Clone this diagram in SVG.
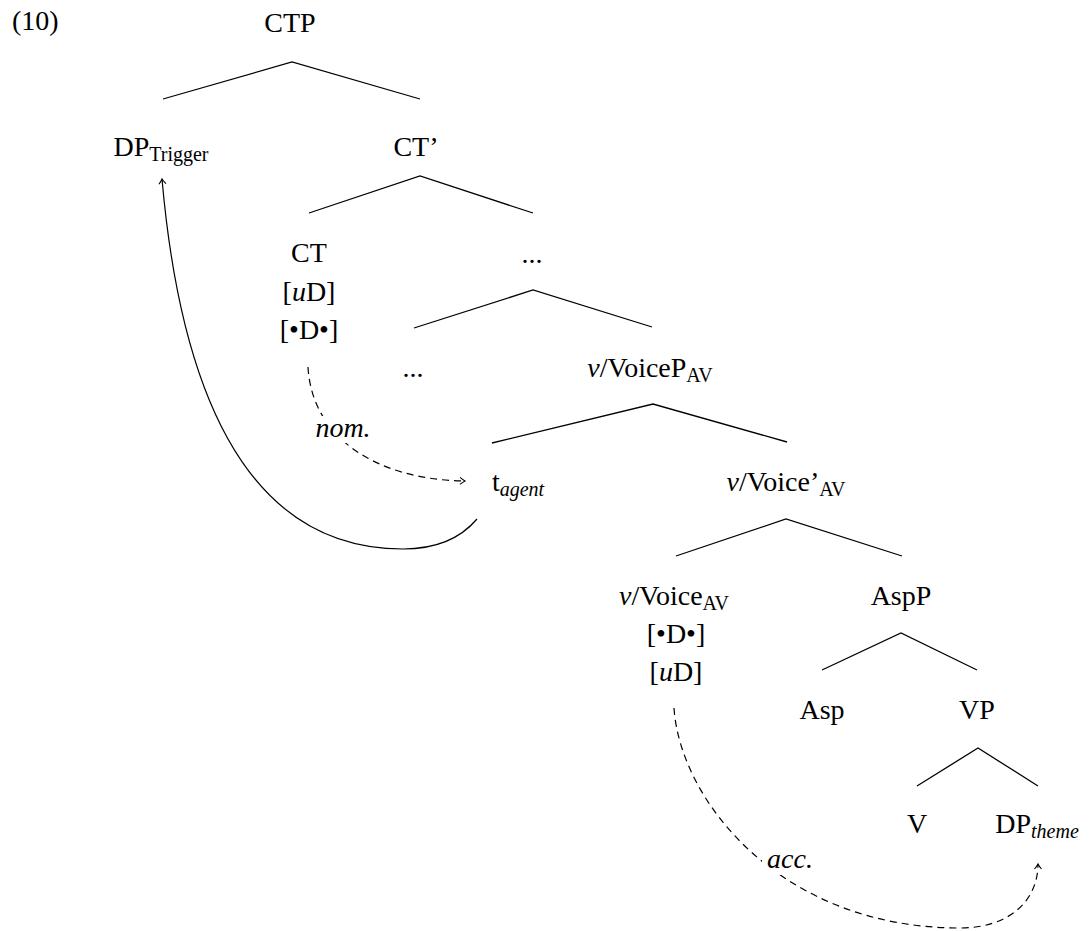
<svg xmlns="http://www.w3.org/2000/svg" width="1092" height="931" viewBox="0 0 1092 931">
<style>
text{font-family:"Liberation Serif","DejaVu Serif",serif;font-size:28px;fill:#000;text-anchor:middle}
.sub{font-size:20px}
.it{font-style:italic}
.edge{stroke:#000;stroke-width:1.3;fill:none}
.dash{stroke:#000;stroke-width:1.2;fill:none;stroke-dasharray:7 5}
.solid{stroke:#000;stroke-width:1.2;fill:none}
</style>
<defs>
<marker id="arr" markerWidth="10" markerHeight="10" refX="6" refY="5" orient="auto" markerUnits="userSpaceOnUse">
<path d="M1,1.5 Q4,4 6,5 Q4,6 1,8.5" fill="none" stroke="#000" stroke-width="1.1"/>
</marker>
</defs>
<text x="12" y="30" style="text-anchor:start">(10)</text>
<g id="edges">
<path class="edge" d="M163 99 L292 62 L420 99"/>
<path class="edge" d="M309 213 L420 176 L533 213"/>
<path class="edge" d="M414 328 L533 290 L652 327"/>
<path class="edge" d="M492 443 L653 404 L787 442"/>
<path class="edge" d="M676 556 L786 519 L902 556"/>
<path class="edge" d="M822 670 L901 633 L977 670"/>
<path class="edge" d="M917 786 L978 748 L1038 786"/>
</g>
<g id="connectors">
<path class="solid" d="M477 519 C460 539 435 549 403 549 C330 549 192 520 162 179" marker-end="url(#arr)"/>
<path class="dash" d="M308 367 C312 440 380 480 465 481" marker-end="url(#arr)"/>
<path class="dash" d="M674 708 C680 800 780 928 960 928 C1010 928 1038 900 1038 864" marker-end="url(#arr)"/>
<rect x="308" y="416" width="72" height="27" fill="#fff"/>
<text x="343" y="437" class="it">nom.</text>
<rect x="762" y="848" width="58" height="27" fill="#fff"/>
<text x="790" y="868" class="it">acc.</text>
</g>
<g id="n-CTP"><text x="290" y="32">CTP</text></g>
<g id="n-DPTrigger"><text x="161" y="156">DP<tspan class="sub" dy="5">Trigger</tspan></text></g>
<g id="n-CTbar"><text x="416" y="156">CT’</text></g>
<g id="n-CT">
<text x="309" y="262">CT</text>
<text x="309" y="301">[<tspan class="it">u</tspan>D]</text>
<text x="309" y="339">[•D•]</text>
</g>
<g id="n-dots1"><text x="532" y="263">...</text></g>
<g id="n-dots2"><text x="413" y="377">...</text></g>
<g id="n-VoiceP"><text x="650" y="377"><tspan class="it">v</tspan>/VoiceP<tspan class="sub" dy="5">AV</tspan></text></g>
<g id="n-tagent"><text x="518" y="491">t<tspan class="sub it" dy="5">agent</tspan></text></g>
<g id="n-Voicebar"><text x="786" y="491"><tspan class="it">v</tspan>/Voice’<tspan class="sub" dy="5">AV</tspan></text></g>
<g id="n-Voice">
<text x="674" y="605"><tspan class="it">v</tspan>/Voice<tspan class="sub" dy="5">AV</tspan></text>
<text x="676" y="643">[•D•]</text>
<text x="676" y="681">[<tspan class="it">u</tspan>D]</text>
</g>
<g id="n-AspP"><text x="901" y="605">AspP</text></g>
<g id="n-Asp"><text x="822" y="719">Asp</text></g>
<g id="n-VP"><text x="977" y="719">VP</text></g>
<g id="n-V"><text x="917" y="833">V</text></g>
<g id="n-DPtheme"><text x="1037" y="833">DP<tspan class="sub it" dy="5">theme</tspan></text></g>
</svg>
